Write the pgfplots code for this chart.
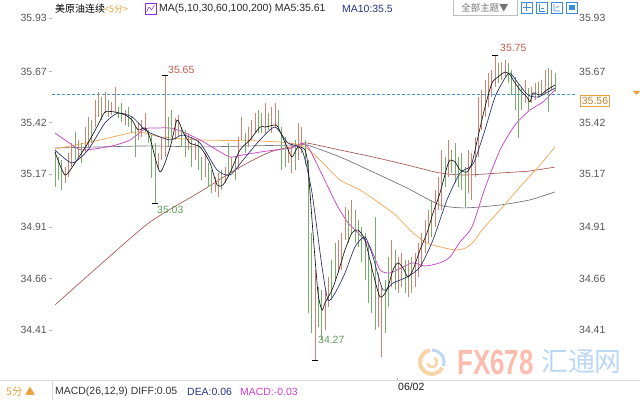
\documentclass[border=0pt]{standalone}
\usepackage{pgfplots}
\pgfplotsset{compat=1.18}
\usepackage{pgfplotstable}
\usepackage{fontspec}
\setmainfont{Liberation Sans}
\newfontfamily\cjk{Noto Sans CJK SC}
\definecolor{upc}{RGB}{210,130,115}
\definecolor{dnc}{RGB}{120,172,105}
\definecolor{ma5}{RGB}{20,20,20}
\definecolor{ma10}{RGB}{35,45,110}
\definecolor{ma30}{RGB}{200,70,200}
\definecolor{ma60}{RGB}{240,170,90}
\definecolor{ma100}{RGB}{110,110,125}
\definecolor{ma200}{RGB}{165,85,80}
\definecolor{tickc}{RGB}{85,85,85}
\definecolor{dashc}{RGB}{60,150,210}
\definecolor{orng}{RGB}{235,160,60}
\definecolor{navyc}{RGB}{40,50,130}
\definecolor{magc}{RGB}{210,60,210}
\definecolor{lbred}{RGB}{195,90,75}
\definecolor{lbgreen}{RGB}{95,160,90}
\definecolor{iconb}{RGB}{60,140,220}

\pgfplotstableread{
k lo hi
3 35.126 35.204
4 35.156 35.273
5 35.204 35.321
7 35.253 35.336
9 35.273 35.399
10 35.302 35.448
12 35.399 35.531
13 35.448 35.570
15 35.467 35.570
17 35.458 35.521
18 35.467 35.594
21 35.409 35.482
25 35.336 35.419
26 35.351 35.433
27 35.375 35.467
31 35.190 35.273
32 35.238 35.351
33 35.253 35.653
36 35.336 35.443
37 35.351 35.458
40 35.287 35.370
42 35.238 35.321
45 35.156 35.273
48 35.083 35.156
49 35.058 35.175
51 35.126 35.204
53 35.175 35.253
55 35.190 35.351
56 35.336 35.448
58 35.302 35.399
59 35.336 35.433
60 35.370 35.467
63 35.370 35.516
65 35.370 35.497
66 35.399 35.516
70 35.224 35.302
71 35.175 35.321
73 35.238 35.419
74 35.273 35.399
78 34.264 34.703
81 34.410 34.605
82 34.522 34.668
85 34.688 34.849
86 34.703 34.883
87 34.849 35.009
89 34.883 35.044
97 34.425 34.688
98 34.279 34.620
101 34.620 34.849
103 34.590 34.766
104 34.620 34.785
106 34.571 34.751
108 34.620 34.785
109 34.668 34.834
110 34.717 34.883
111 34.785 34.946
112 34.834 34.995
114 34.912 35.092
115 34.995 35.156
116 34.995 35.287
118 35.156 35.336
124 35.078 35.287
125 35.044 35.273
126 35.156 35.351
127 35.253 35.545
128 35.385 35.580
129 35.448 35.628
130 35.497 35.662
131 35.545 35.677
132 35.594 35.750
134 35.628 35.716
135 35.643 35.726
141 35.516 35.628
143 35.516 35.594
144 35.531 35.614
146 35.555 35.628
147 35.565 35.677
149 35.580 35.677
}\upbars

\pgfplotstableread{
k lo hi
0 35.107 35.287
1 35.141 35.253
2 35.092 35.238
6 35.238 35.375
8 35.224 35.321
11 35.321 35.433
14 35.433 35.545
16 35.448 35.531
19 35.443 35.497
20 35.424 35.516
22 35.399 35.497
23 35.370 35.448
24 35.253 35.399
28 35.321 35.385
29 35.151 35.360
30 35.029 35.321
34 35.302 35.448
35 35.351 35.482
38 35.302 35.399
39 35.253 35.385
41 35.204 35.351
43 35.190 35.336
44 35.141 35.253
46 35.107 35.224
47 35.078 35.190
50 35.092 35.190
52 35.156 35.321
54 35.141 35.253
57 35.273 35.370
61 35.370 35.482
62 35.370 35.467
64 35.385 35.467
67 35.385 35.482
68 35.190 35.399
69 35.204 35.351
72 35.190 35.336
75 35.214 35.336
76 34.493 35.238
77 34.396 34.883
79 34.425 34.620
80 34.361 34.605
83 34.556 34.751
84 34.654 34.834
88 34.834 34.995
90 34.834 34.995
91 34.815 34.946
92 34.742 34.912
93 34.654 34.883
94 34.542 34.834
95 34.493 34.737
96 34.410 34.961
99 34.396 34.654
100 34.522 34.766
102 34.605 34.800
105 34.590 34.751
107 34.590 34.766
113 34.863 35.044
117 35.107 35.253
119 35.175 35.287
120 35.126 35.321
121 35.107 35.253
122 35.092 35.273
123 35.009 35.204
133 35.614 35.711
136 35.614 35.711
137 35.555 35.677
138 35.482 35.643
139 35.346 35.614
140 35.482 35.594
142 35.482 35.589
145 35.541 35.618
148 35.472 35.687
150 35.570 35.662
}\downbars

\begin{document}
\begin{tikzpicture}
\path[use as bounding box] (0bp,0bp) rectangle (640bp,400bp);

\begin{axis}[
  at={(52bp,22bp)}, anchor=south west, scale only axis,
  width=523bp, height=378bp,
  xmin=-0.9, xmax=156, ymin=34.176, ymax=36.018,
  axis line style={draw=none},
  ytick={34.41,34.66,34.91,35.17,35.42,35.67,35.93},
  yticklabels={34.41,34.66,34.91,35.17,35.42,35.67,35.93},
  ytick pos=left, xtick pos=bottom,
  xtick={102.6}, xticklabels={06/02},
  tick align=outside, major tick length=3bp,
  tick style={draw=gray!60, line width=0.5bp},
  yticklabel style={font=\fontsize{10.5}{12}\selectfont, text=tickc, inner sep=2bp},
  xticklabel style={font=\fontsize{10.5}{12}\selectfont, text=black!90, anchor=north west, inner sep=1bp, yshift=-1bp},
]
% dashed current price line
\addplot[dashc, line width=0.6bp, dash pattern=on 3bp off 2bp, forget plot] coordinates {(-0.9,35.56) (156,35.56)};

% long MAs
\addplot[ma200, line width=0.65bp, smooth, tension=0.4] coordinates {
(0,34.532) (13.5,34.727) (28.5,34.936) (43.5,35.083) (55.5,35.204) (64.5,35.277) (73.5,35.312) (75.6,35.321)
(85.5,35.287) (95.4,35.253) (105.6,35.214) (115.5,35.175) (123,35.165) (133.5,35.175) (142.5,35.185) (150,35.204)};
\addplot[ma100, line width=0.65bp, smooth, tension=0.4] coordinates {
(0,35.297) (13.5,35.302) (28.5,35.307) (43.5,35.302) (58.5,35.307) (73.5,35.312) (75.6,35.312)
(85.5,35.253) (95.4,35.180) (105.6,35.102) (115.5,35.019) (123,35.005) (133.5,35.019) (142.5,35.044) (150,35.083)};
\addplot[ma60, line width=0.75bp, smooth, tension=0.4] coordinates {
(0,35.292) (13.5,35.336) (24.6,35.375) (31.5,35.351) (43.5,35.336) (61.5,35.331) (70.5,35.321) (75,35.302)
(79.5,35.238) (85.5,35.141) (91.5,35.092) (101.4,34.980) (107.4,34.883) (111.6,34.834) (115.5,34.815)
(120,34.800) (123,34.808) (125.5,34.839) (128.1,34.897) (133.5,34.995) (139.5,35.107) (145.5,35.214) (150,35.302)};
\addplot[ma30, line width=0.75bp, smooth, tension=0.4] coordinates {
(0,35.370) (3,35.336) (8.1,35.287) (17.1,35.307) (22.5,35.336) (27,35.390) (30,35.394) (34.5,35.394)
(38.4,35.375) (43.5,35.336) (48.6,35.287) (52.5,35.253) (56.4,35.263) (61.5,35.277) (66,35.287)
(71.1,35.297) (74.1,35.321) (75.9,35.302) (78,35.238) (81.9,35.107) (84.9,35.009) (87.9,34.932)
(90.9,34.883) (94.5,34.815) (97.5,34.703) (100.5,34.688) (104.4,34.717) (107.4,34.737) (111,34.722)
(115.5,34.737) (118.5,34.766) (121.5,34.839) (125.1,34.912) (129,35.102) (133.5,35.287) (138,35.409)
(142.5,35.482) (146.4,35.521) (150,35.580)};

% bars
\addplot[forget plot, draw=none, mark=none,
  error bars/.cd, y dir=plus, y explicit, error mark=none,
  error bar style={draw=upc, line width=0.75bp}]
  table[x=k, y=lo, y error expr=\thisrow{hi}-\thisrow{lo}] {\upbars};
\addplot[forget plot, draw=none, mark=none,
  error bars/.cd, y dir=plus, y explicit, error mark=none,
  error bar style={draw=dnc, line width=0.75bp}]
  table[x=k, y=lo, y error expr=\thisrow{hi}-\thisrow{lo}] {\downbars};

% short MAs
\addplot[ma10, line width=0.65bp, smooth, tension=0.4] coordinates {
(0,35.287) (5.1,35.224) (9.9,35.287) (15,35.419) (18.9,35.467) (23.1,35.448) (27,35.385) (28.5,35.370)
(34.5,35.336) (38.4,35.360) (43.5,35.321) (48.6,35.190) (52.5,35.165) (56.4,35.238) (61.5,35.336)
(66,35.399) (69.9,35.321) (74.1,35.287) (77.1,35.078) (80.1,34.717) (81.9,34.556) (84,34.590)
(87,34.688) (90,34.815) (93,34.863) (95.4,34.766) (98.4,34.605) (101.4,34.639) (105.6,34.668)
(109.5,34.717) (113.4,34.849) (117.6,35.044) (121.5,35.175) (124.5,35.204) (126,35.238) (129,35.385)
(132,35.545) (135,35.638) (136.5,35.662) (138.9,35.614) (141.9,35.555) (144.9,35.545) (147.9,35.570) (150,35.589)};
\addplot[ma5, line width=0.65bp, smooth, tension=0.4] coordinates {
(0,35.277) (3,35.165) (6,35.224) (9.9,35.321) (12.9,35.409) (15,35.472) (18,35.472) (21,35.458)
(23.1,35.433) (24.9,35.385) (27,35.394) (28.5,35.346) (31.5,35.180) (34.5,35.297) (36.6,35.433)
(38.4,35.375) (40.5,35.321) (43.5,35.302) (46.5,35.224) (48.6,35.117) (50.4,35.117) (52.5,35.175)
(55.5,35.287) (58.5,35.336) (61.5,35.399) (63,35.399) (66,35.409) (66.9,35.399) (69.6,35.302)
(71.1,35.253) (72.9,35.302) (75,35.287) (75.9,35.204) (77.4,34.883) (78.9,34.590) (80.1,34.507)
(81,34.542) (83.1,34.605) (84.9,34.688) (87,34.800) (89.1,34.883) (90.9,34.897) (93,34.849)
(95.4,34.688) (97.5,34.571) (99.6,34.605) (101.4,34.703) (102.9,34.737) (104.4,34.712) (105.9,34.668)
(107.4,34.703) (109.5,34.800) (111.6,34.883) (113.4,34.980) (115.5,35.078) (117.6,35.204) (118.5,35.238)
(120,35.229) (121.5,35.190) (123.6,35.180) (125.1,35.224) (126.9,35.351) (129,35.497) (131.1,35.614)
(132.9,35.643) (135,35.667) (136.5,35.653) (138,35.614) (139.5,35.580) (141.6,35.545) (142.5,35.521)
(143.4,35.565) (145.5,35.555) (147.6,35.580) (150,35.604)};

% extreme marks
\addplot[only marks, mark=-, mark size=3bp, black, mark options={line width=0.6bp}] coordinates {
(33,35.653) (30,35.029) (78,34.264) (132,35.750)};
\node[anchor=west, text=lbred, font=\fontsize{10.5}{12}\selectfont, inner sep=0] at (axis cs:33.9,35.677) {35.65};
\node[anchor=west, text=lbgreen, font=\fontsize{10.5}{12}\selectfont, inner sep=0] at (axis cs:30.6,34.995) {35.03};
\node[anchor=west, text=lbgreen, font=\fontsize{10.5}{12}\selectfont, inner sep=0] at (axis cs:78.9,34.361) {34.27};
\node[anchor=west, text=lbred, font=\fontsize{10.5}{12}\selectfont, inner sep=0] at (axis cs:133.5,35.784) {35.75};
\end{axis}

% right labels
\begin{axis}[
  at={(52bp,22bp)}, anchor=south west, scale only axis,
  width=523bp, height=378bp,
  xmin=-0.9, xmax=156, ymin=34.176, ymax=36.018,
  axis x line=none, axis y line*=right, axis line style={draw=none},
  ytick={34.41,34.66,34.91,35.17,35.42,35.67,35.93},
  yticklabels={34.41,34.66,34.91,35.17,35.42,35.67,35.93},
  major tick length=0bp,
  yticklabel style={font=\fontsize{10.5}{12}\selectfont, text=tickc, anchor=west, inner sep=0bp, xshift=4bp},
]
\addplot[draw=none, forget plot] coordinates {(0,35)};
\end{axis}

\begin{scope}[x=1bp,y=1bp]
% current price box
\node[draw=orng, text=orng!80!black, line width=0.6bp, inner sep=1.5bp, font=\fontsize{10.5}{12}\selectfont] at (595,299) {35.56};
\fill[orng] (633,309) -- (640,309) -- (636.5,305) -- cycle;

% header
\node[anchor=west, inner sep=0] at (55,391) {\cjk\fontsize{10}{12}\selectfont 美原油连续};
\node[anchor=west, inner sep=0, text=orng] at (104,391) {\cjk\fontsize{9}{11}\selectfont <5分>};
\draw[magc!70!blue, line width=0.6bp] (145,386) rectangle (156,397);
\draw[magc!70!blue, line width=0.5bp] (146.5,388) -- (149,393) -- (151.5,390) -- (154.5,395);
\node[anchor=west, inner sep=0, text=black!85] at (159,391) {\fontsize{10.5}{12}\selectfont MA(5,10,30,60,100,200) MA5:35.61};
\node[anchor=west, inner sep=0, text=navyc] at (342,391) {\fontsize{10.5}{12}\selectfont MA10:35.5};
\draw[gray!50, line width=0.6bp] (453,399.5) -- (453,385) -- (517,385) -- (517,399.5);
\node[inner sep=0, text=gray!90!black] at (485,392.5) {\cjk\fontsize{9.5}{11}\selectfont 全部主题▼};
\foreach \xx in {521,536,551,566} {
  \draw[iconb, line width=0.6bp] (\xx,387) rectangle (\xx+11,398);
}
\draw[iconb, line width=0.6bp] (526.5,388.5) -- (526.5,396.5) (522.5,392.5) -- (530.5,392.5);
\draw[iconb, line width=0.6bp] (539,389) -- (539,396) (539,389) -- (545,389) (541,392) -- (544,392);
\draw[iconb, line width=0.6bp] (554,389) -- (554,396) (554,389) -- (560,389) (556,392) -- (559,394);
\fill[iconb] (569,390) rectangle (575,395);

% bottom strip
\draw[gray!30, line width=0.6bp] (0,20) -- (640,20);
\draw[gray!30, line width=0.6bp] (52,0) -- (52,20);
\node[anchor=west, inner sep=0, text=orng] at (6,8) {\cjk\fontsize{10.5}{12}\selectfont 5分 ▲};
\node[anchor=west, inner sep=0, text=black!80] at (55,8) {\fontsize{10.5}{12}\selectfont MACD(26,12,9) DIFF:0.05};
\node[anchor=west, inner sep=0, text=navyc] at (187,8) {\fontsize{10.5}{12}\selectfont DEA:0.06};
\node[anchor=west, inner sep=0, text=magc] at (240,8) {\fontsize{10.5}{12}\selectfont MACD:-0.03};

% watermark
\draw[orng!45, line width=4bp] (432,38) ++(100:12) arc (100:330:12);
\draw[iconb!35, line width=3bp] (432,38) ++(-20:12) arc (-20:90:12);
\draw[orng!45, line width=2.5bp] (432,38) ++(200:5) arc (200:420:5);
\node[anchor=west, inner sep=0, yscale=1.35, text=orng!40!red!35] at (457,38) {\bfseries\fontsize{26}{26}\selectfont FX678};
\node[anchor=west, inner sep=0, text=iconb!35] at (541,38) {\cjk\fontsize{27}{27}\selectfont 汇通网};
\end{scope}
\end{tikzpicture}
\end{document}
